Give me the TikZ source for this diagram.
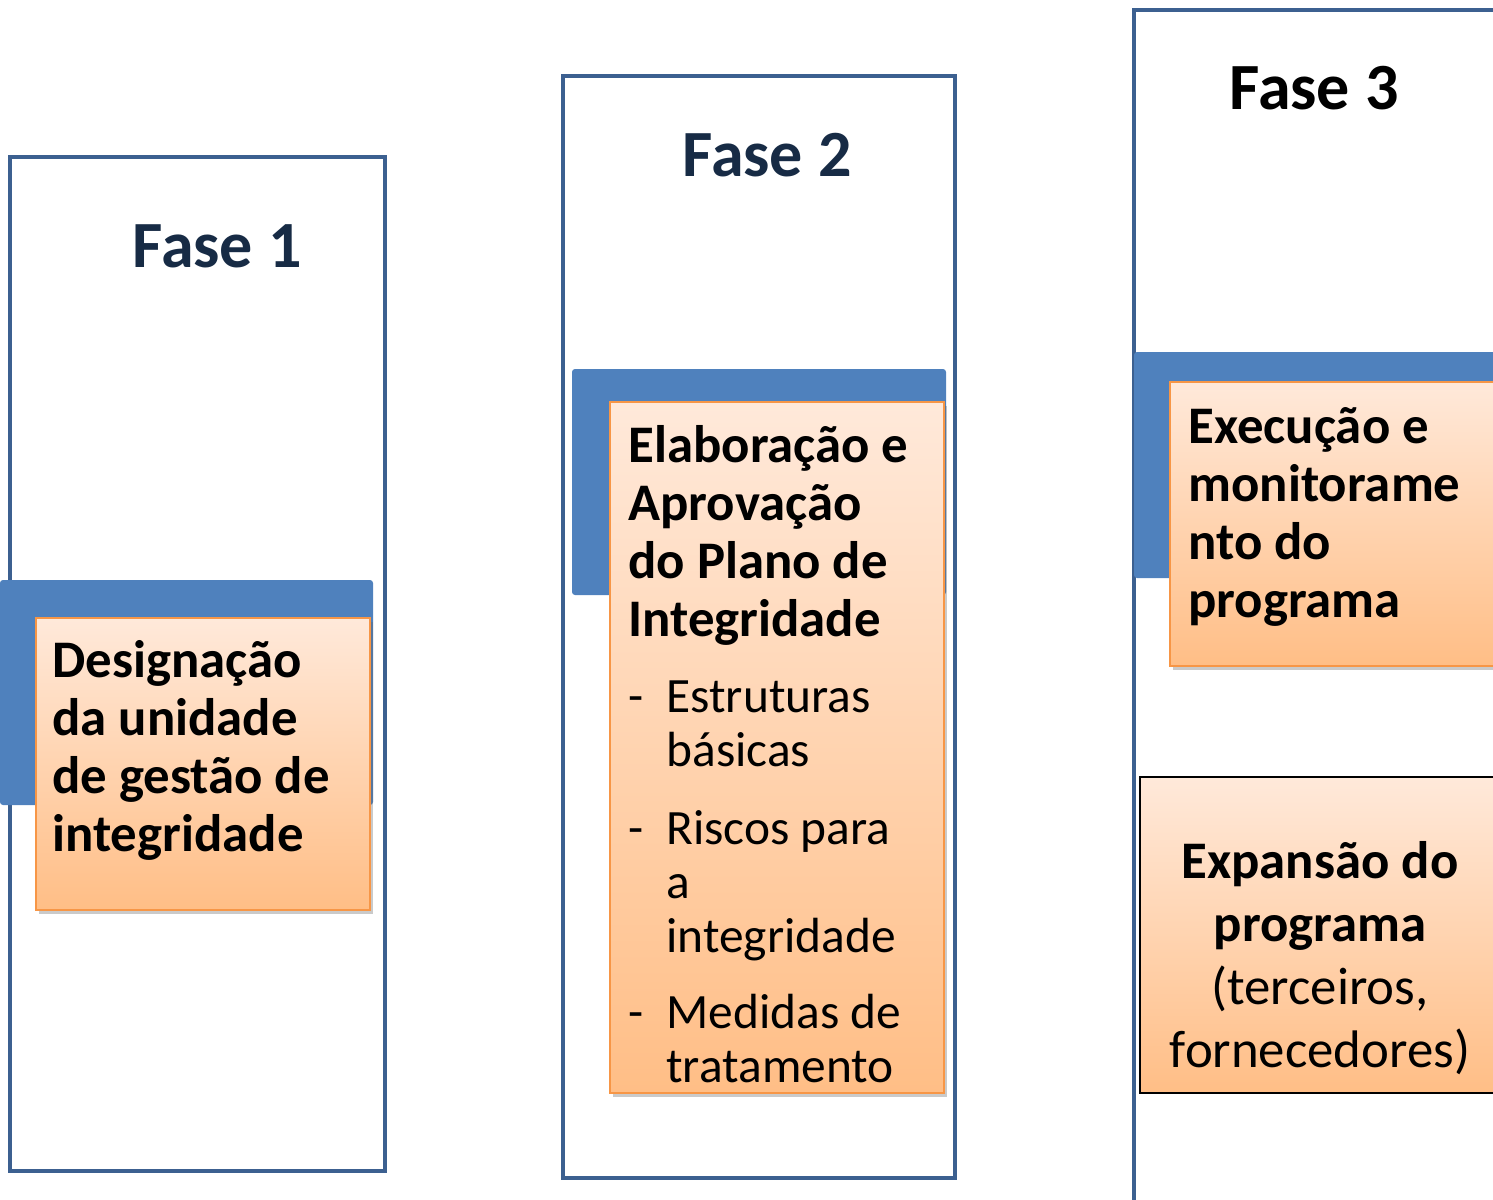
\documentclass[tikz,border=0pt]{standalone}
\usepackage{fontspec}
\setmainfont{Carlito}
\usetikzlibrary{shadows}

\definecolor{framecol}{HTML}{3C6090}
\definecolor{barcol}{HTML}{4F81BD}
\definecolor{navy}{HTML}{172B45}
\definecolor{peachtop}{HTML}{FFE9DA}
\definecolor{peachbot}{HTML}{FFBE86}
\definecolor{peachline}{HTML}{F79646}

\tikzset{
  frame/.style={draw=framecol, line width=2pt},
  bar/.style={fill=barcol, rounded corners=1.5pt},
  peach/.style={top color=peachtop, bottom color=peachbot, draw=peachline, line width=0.8pt,
    drop shadow={shadow xshift=1.5pt, shadow yshift=-2pt, opacity=.35, fill=black!60}},
  phase/.style={anchor=base, inner sep=0pt, font=\fontsize{33}{40}\selectfont\bfseries},
  boxtext/.style={anchor=base west, inner sep=0pt, font=\fontsize{26.4}{29}\selectfont\bfseries},
  listtext/.style={anchor=base west, inner sep=0pt, font=\fontsize{24.7}{27}\selectfont}
}

\begin{document}
\begin{tikzpicture}[x=0.5pt, y=-0.5pt]
  \useasboundingbox (0,0) rectangle (1493,1199);
  \clip (0,0) rectangle (1493,1199);

  % Fase 1
  \draw[frame] (10,157) rectangle (385,1171);
  \fill[bar] (0,580) rectangle (373,805);
  \draw[peach] (36,618) rectangle (370,910);
  \node[phase, text=navy] (fase1) at (217,267) {Fase 1};
  \node[boxtext] (desig) at (52,677)
    {\begin{tabular}[t]{@{}l@{}}Designação\\da unidade\\de gestão de\\integridade\end{tabular}};

  % Fase 2
  \draw[frame] (563,76) rectangle (955,1178);
  \fill[bar] (572,369) rectangle (946,595);
  \draw[peach] (610,402) rectangle (944,1093);
  \node[phase, text=navy] (fase2) at (767,176) {Fase 2};
  \node[boxtext] (elab) at (628,462)
    {\begin{tabular}[t]{@{}l@{}}Elaboração e\\Aprovação\\do Plano de\\Integridade\end{tabular}};
  \node[listtext] (elablist) at (628,712)
    {\begin{tabular}[t]{@{}p{19pt}@{}l@{}}
      - & Estruturas\\ & básicas\\[12pt]
      - & Riscos para\\ & a\\ & integridade\\[11pt]
      - & Medidas de\\ & tratamento
    \end{tabular}};

  % Fase 3
  \draw[frame] (1134,10) rectangle (1520,1230);
  \fill[bar] (1134,352) rectangle (1520,578);
  \draw[peach] (1170,382) rectangle (1520,666);
  \node[phase] (fase3) at (1314,109) {Fase 3};
  \node[boxtext] (exec) at (1188,443)
    {\begin{tabular}[t]{@{}l@{}}Execução e\\monitorame\\nto do\\programa\end{tabular}};

  \draw[top color=peachtop, bottom color=peachbot, draw=black, line width=1pt] (1140,777) rectangle (1520,1093);
  \node[anchor=base, inner sep=0pt, font=\fontsize{26.4}{31.5}\selectfont] (expan) at (1320,878)
    {\begin{tabular}[t]{@{}c@{}}\bfseries Expansão do\\\bfseries programa\\(terceiros,\\fornecedores)\end{tabular}};
\end{tikzpicture}
\end{document}
